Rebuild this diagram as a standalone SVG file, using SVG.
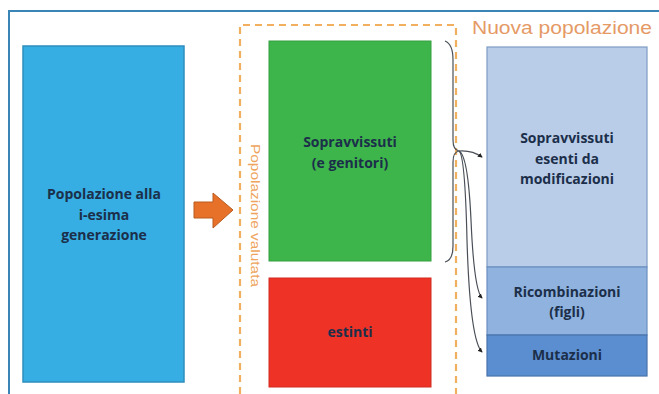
<svg xmlns="http://www.w3.org/2000/svg" width="659" height="394" viewBox="0 0 659 394">
  <defs>
    <style>
      .lbl { font-family: "Open Sans", "Liberation Sans", Arial, sans-serif; font-weight: bold; font-size: 14px; text-anchor: middle; fill: #1c2f4a; }
      .dash { fill: none; stroke: #f0b060; stroke-width: 2.2; stroke-dasharray: 7 5; }
      .link { fill: none; stroke: #4a4f57; stroke-width: 1.2; }
    </style>
    <marker id="dot" viewBox="0 0 6 6" refX="5" refY="3" markerWidth="4" markerHeight="4" orient="auto">
      <path d="M0,0 L6,3 L0,6 Z" fill="#222"/>
    </marker>
  </defs>

  <!-- page frame -->
  <rect x="0" y="0" width="659" height="394" fill="#ffffff"/>
  <path d="M9,394 V11 H659" fill="none" stroke="#3a85b5" stroke-width="2"/>

  <!-- population at generation i -->
  <g id="popolazione">
    <rect x="23" y="46" width="161" height="336" fill="#36aee4" stroke="#2e8fbf" stroke-width="1.5"/>
    <text class="lbl" x="104" y="199">Popolazione alla</text>
    <text class="lbl" x="104" y="220">i-esima</text>
    <text class="lbl" x="104" y="240">generazione</text>
  </g>

  <!-- orange block arrow -->
  <g id="freccia">
    <path d="M194,202 H213 V193 L233,210 L213,228 V218 H194 Z" fill="#e8712a" stroke="#b85a1e" stroke-width="1"/>
  </g>

  <!-- evaluated population area -->
  <g id="valutata">
    <path class="dash" d="M240,394 V25 H456 V394"/>
    <text x="0" y="0" transform="translate(251,144) rotate(90)" font-family="Liberation Sans, Arial, sans-serif" font-size="12.5" fill="#eea45c" textLength="143" lengthAdjust="spacingAndGlyphs">Popolazione valutata</text>
  </g>

  <g id="sopravvissuti">
    <rect x="269" y="41" width="162" height="220" fill="#3db54a" stroke="#34a040" stroke-width="1"/>
    <text class="lbl" x="350" y="147">Sopravvissuti</text>
    <text class="lbl" x="350" y="168">(e genitori)</text>
  </g>

  <g id="estinti">
    <rect x="269" y="278" width="162" height="109" fill="#ef3226" stroke="#d12a20" stroke-width="1"/>
    <text class="lbl" x="350" y="337">estinti</text>
  </g>

  <!-- new population -->
  <g id="nuova">
    <text x="472" y="34" font-family="Liberation Sans, Arial, sans-serif" font-size="17.5" fill="#e59a66" textLength="180" lengthAdjust="spacingAndGlyphs">Nuova popolazione</text>
  </g>

  <g id="esenti">
    <rect x="487" y="47" width="160" height="220" fill="#b9cde9" stroke="#7d9cc4" stroke-width="1.2"/>
    <text class="lbl" x="567" y="143">Sopravvissuti</text>
    <text class="lbl" x="567" y="164">esenti da</text>
    <text class="lbl" x="567" y="184">modificazioni</text>
  </g>

  <g id="ricombinazioni">
    <rect x="487" y="267" width="160" height="68" fill="#8fb2de" stroke="#6a8fc0" stroke-width="1.2"/>
    <text class="lbl" x="567" y="297">Ricombinazioni</text>
    <text class="lbl" x="567" y="317">(figli)</text>
  </g>

  <g id="mutazioni">
    <rect x="487" y="335" width="160" height="41" fill="#5b8ed0" stroke="#4872aa" stroke-width="1.2"/>
    <text class="lbl" x="567" y="360">Mutazioni</text>
  </g>

  <!-- brace and connectors -->
  <g id="connettori">
    <path class="link" d="M445,41 Q453,44 453,60 L453,140 Q453,150 459,151 Q453,152 453,162 L453,246 Q453,260 445,262"/>
    <path class="link" d="M459,151 Q472,150 482,157" marker-end="url(#dot)"/>
    <path class="link" d="M459,151 Q468,155 471,220 Q474,290 482,298" marker-end="url(#dot)"/>
    <path class="link" d="M459,151 Q465,155 467,240 Q470,340 482,352" marker-end="url(#dot)"/>
  </g>
</svg>
